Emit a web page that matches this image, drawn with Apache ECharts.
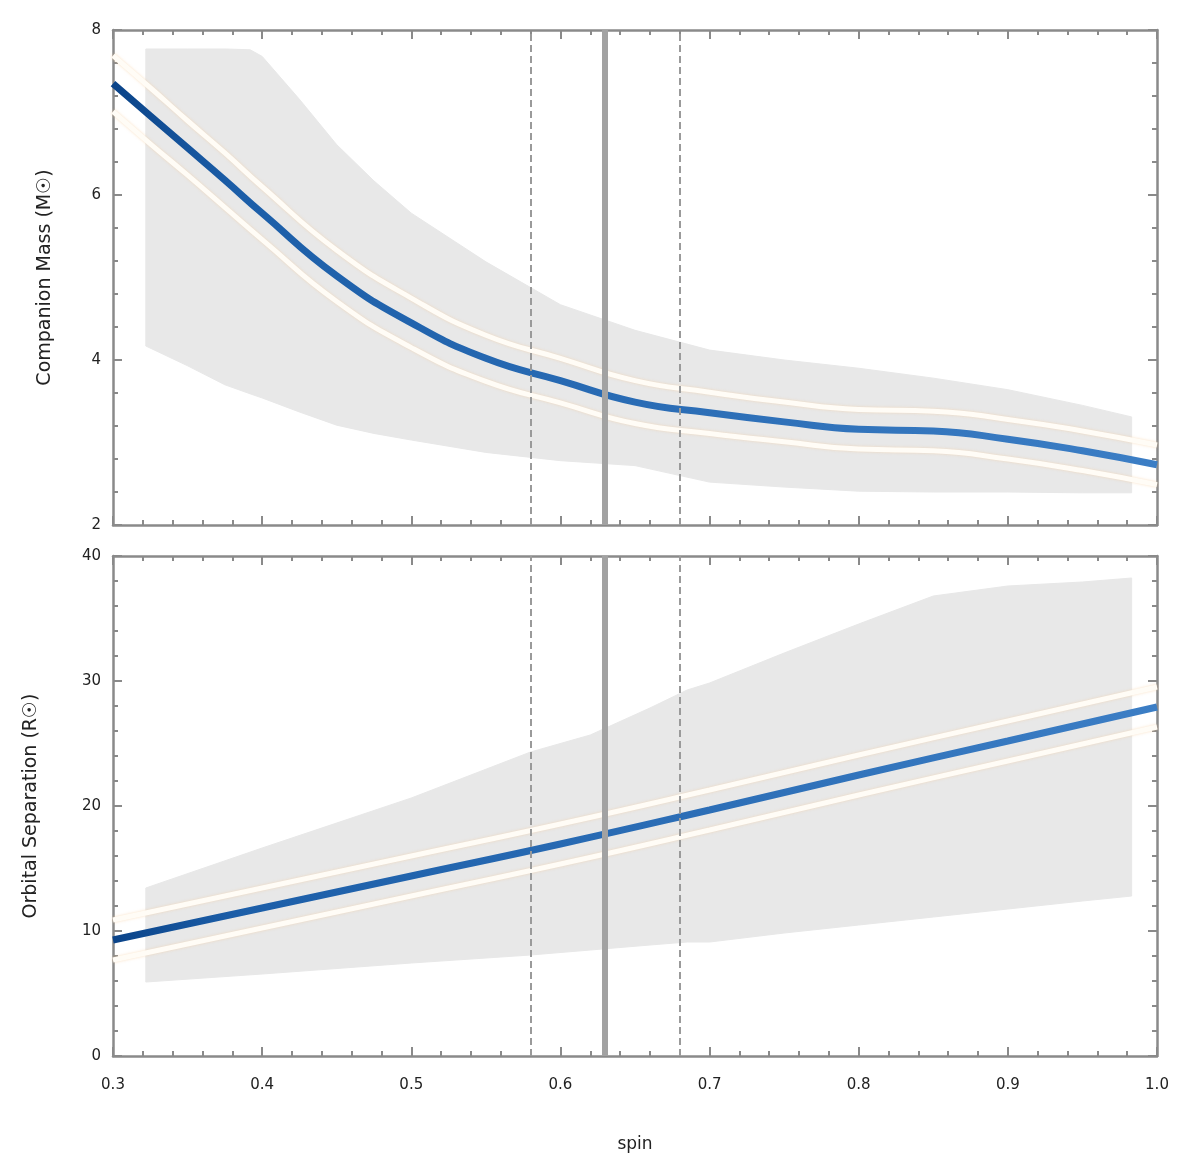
<!DOCTYPE html>
<html>
<head>
<meta charset="utf-8">
<script src="https://cdn.jsdelivr.net/npm/echarts@6/dist/echarts.min.js"></script>
<style>
  html, body { margin: 0; background: #fff; }
  #chart { width: 1200px; height: 1176px; }
</style>
</head>
<body>
<div id="chart"></div>
<script>
// ---- data ----
const xTicks = [0.3, 0.4, 0.5, 0.6, 0.7, 0.8, 0.9, 1.0];

// top panel: median curve + inner halo
const topX = [0.30, 0.325, 0.35, 0.375, 0.40, 0.45, 0.50, 0.55, 0.60, 0.65, 0.70, 0.75, 0.80, 0.85, 0.90, 0.95, 1.00];
const topMid = [7.35, 6.96, 6.57, 6.18, 5.78, 5.02, 4.45, 4.02, 3.75, 3.49, 3.36, 3.25, 3.16, 3.14, 3.04, 2.90, 2.73];
const topHaloUp = [7.69, 7.30, 6.90, 6.51, 6.10, 5.33, 4.75, 4.30, 4.02, 3.75, 3.61, 3.49, 3.40, 3.38, 3.28, 3.14, 2.97];
const topHaloLo = [7.01, 6.62, 6.24, 5.85, 5.46, 4.71, 4.15, 3.74, 3.48, 3.23, 3.11, 3.01, 2.92, 2.90, 2.80, 2.66, 2.49];

// top panel: grey range
const topBandX = [0.322, 0.35, 0.375, 0.392, 0.40, 0.425, 0.45, 0.475, 0.50, 0.55, 0.60, 0.65, 0.70, 0.75, 0.80, 0.85, 0.90, 0.95, 0.983];
const topBandUp = [7.77, 7.77, 7.77, 7.76, 7.68, 7.16, 6.61, 6.17, 5.78, 5.19, 4.67, 4.36, 4.12, 4.00, 3.90, 3.78, 3.64, 3.45, 3.31];
const topBandLo = [4.17, 3.93, 3.70, 3.59, 3.54, 3.37, 3.21, 3.11, 3.03, 2.88, 2.78, 2.72, 2.52, 2.46, 2.41, 2.40, 2.40, 2.39, 2.39];

// bottom panel
const botX = [0.3, 0.4, 0.5, 0.6, 0.7, 0.8, 0.9, 1.0];
const botMid = [9.28, 11.84, 14.40, 16.96, 19.68, 22.48, 25.20, 27.92];
const botHaloUp = [10.88, 13.44, 16.00, 18.56, 21.28, 24.08, 26.80, 29.52];
const botHaloLo = [7.68, 10.24, 12.80, 15.36, 18.08, 20.88, 23.60, 26.32];

const botBandX = [0.322, 0.40, 0.50, 0.58, 0.62, 0.66, 0.685, 0.70, 0.75, 0.80, 0.85, 0.90, 0.95, 0.983];
const botBandUp = [13.44, 16.64, 20.64, 24.32, 25.68, 27.84, 29.28, 29.84, 32.24, 34.56, 36.80, 37.60, 37.92, 38.24];
const botBandLo = [5.92, 6.56, 7.44, 8.08, 8.48, 8.88, 9.12, 9.12, 9.84, 10.48, 11.12, 11.76, 12.40, 12.80];

// vertical reference lines: lower, median, upper
const vLines = [0.582, 0.631, 0.684];

const topLabel = "Companion Mass (M\u2609)";
const botLabel = "Orbital Separation (R\u2609)";
const xLabel = "spin";

// ---- helpers ----
const pairs = (xs, ys) => xs.map((x, i) => [x, ys[i]]);

const AX = "#8a8a8a";
const FONT = "DejaVu Sans";

function xAx(grid, pos) {
  return {
    type: "value", gridIndex: grid, position: pos,
    min: 0.3, max: 1.0, interval: 0.1,
    axisLine: { show: true, onZero: false, lineStyle: { color: AX, width: 2.5 } },
    axisTick: { show: true, inside: true, length: 9, lineStyle: { color: AX, width: 2 } },
    minorTick: { show: true, splitNumber: 5, length: 5, lineStyle: { color: AX, width: 2 } },
    splitLine: { show: false },
    axisLabel: {
      show: grid === 1 && pos === "bottom",
      color: "#222", fontFamily: FONT, fontSize: 15, margin: 22,
      formatter: v => v.toFixed(1)
    },
    name: grid === 1 && pos === "bottom" ? xLabel : "",
    nameLocation: "middle", nameGap: 80,
    nameTextStyle: { color: "#222", fontFamily: FONT, fontSize: 17 }
  };
}

function yAx(grid, pos, min, max, interval, label, gap) {
  return {
    type: "value", gridIndex: grid, position: pos,
    min: min, max: max, interval: interval,
    axisLine: { show: true, onZero: false, lineStyle: { color: AX, width: 2.5 } },
    axisTick: { show: true, inside: true, length: 9, lineStyle: { color: AX, width: 2 } },
    minorTick: { show: true, splitNumber: 5, length: 5, lineStyle: { color: AX, width: 2 } },
    splitLine: { show: false },
    axisLabel: {
      show: pos === "left",
      color: "#222", fontFamily: FONT, fontSize: 15, margin: 12
    },
    name: pos === "left" ? label : "",
    nameLocation: "middle", nameGap: gap,
    nameTextStyle: { color: "#222", fontFamily: FONT, fontSize: 19 }
  };
}

function blue() {
  return new echarts.graphic.LinearGradient(0, 0, 1, 0, [
    { offset: 0, color: "#0a4388" },
    { offset: 0.12, color: "#1c5ea8" },
    { offset: 1, color: "#3c7ec5" }
  ]);
}

// grey range drawn as one polygon through the axis scales
function bandSeries(grid, xs, up, lo) {
  return {
    type: "custom", xAxisIndex: grid * 2, yAxisIndex: grid * 2,
    silent: true, clip: true, z: 1,
    data: [[xs[0], lo[0]]],
    renderItem: (params, api) => {
      const upper = xs.map((x, i) => api.coord([x, up[i]]));
      const lower = xs.map((x, i) => api.coord([x, lo[i]])).reverse();
      return {
        type: "polygon",
        shape: { points: upper.concat(lower) },
        style: { fill: "#e8e8e8", stroke: "#e8e8e8", lineWidth: 1, lineJoin: "round" }
      };
    }
  };
}

function haloSeries(grid, xs, ys) {
  return {
    type: "line", xAxisIndex: grid * 2, yAxisIndex: grid * 2,
    data: pairs(xs, ys), symbol: "none", smooth: true, silent: true,
    lineStyle: { color: "#fffcf6", width: 5, shadowColor: "rgba(245,200,150,0.55)", shadowBlur: 3 },
    z: 3
  };
}

function vLineSeries(grid) {
  return {
    type: "line", xAxisIndex: grid * 2, yAxisIndex: grid * 2, data: [],
    markLine: {
      silent: true, symbol: ["none", "none"], animation: false,
      label: { show: false },
      data: [
        { xAxis: vLines[0], lineStyle: { color: "#9a9a9a", type: [7, 4], width: 2 } },
        { xAxis: vLines[1], lineStyle: { color: "#a2a2a2", type: "solid", width: 6 } },
        { xAxis: vLines[2], lineStyle: { color: "#9a9a9a", type: [7, 4], width: 2 } }
      ]
    },
    z: 2
  };
}

function mainSeries(grid, xs, ys) {
  return {
    type: "line", xAxisIndex: grid * 2, yAxisIndex: grid * 2,
    data: pairs(xs, ys), symbol: "none", smooth: true, silent: true,
    lineStyle: { color: blue(), width: 7 },
    z: 4
  };
}

const chart = echarts.init(document.getElementById("chart"));

const option = {
  backgroundColor: "#fff",
  animation: false,
  grid: [
    { left: 113, top: 30, width: 1044, height: 495 },
    { left: 113, top: 556, width: 1044, height: 500 }
  ],
  xAxis: [xAx(0, "bottom"), xAx(0, "top"), xAx(1, "bottom"), xAx(1, "top")],
  yAxis: [
    yAx(0, "left", 2, 8, 2, topLabel, 58),
    yAx(0, "right", 2, 8, 2, "", 0),
    yAx(1, "left", 0, 40, 10, botLabel, 72),
    yAx(1, "right", 0, 40, 10, "", 0)
  ],
  series: [
    bandSeries(0, topBandX, topBandUp, topBandLo),
    vLineSeries(0),
    haloSeries(0, topX, topHaloUp),
    haloSeries(0, topX, topHaloLo),
    mainSeries(0, topX, topMid),

    bandSeries(1, botBandX, botBandUp, botBandLo),
    vLineSeries(1),
    haloSeries(1, botX, botHaloUp),
    haloSeries(1, botX, botHaloLo),
    mainSeries(1, botX, botMid)
  ]
};

chart.setOption(option);
</script>
</body>
</html>
